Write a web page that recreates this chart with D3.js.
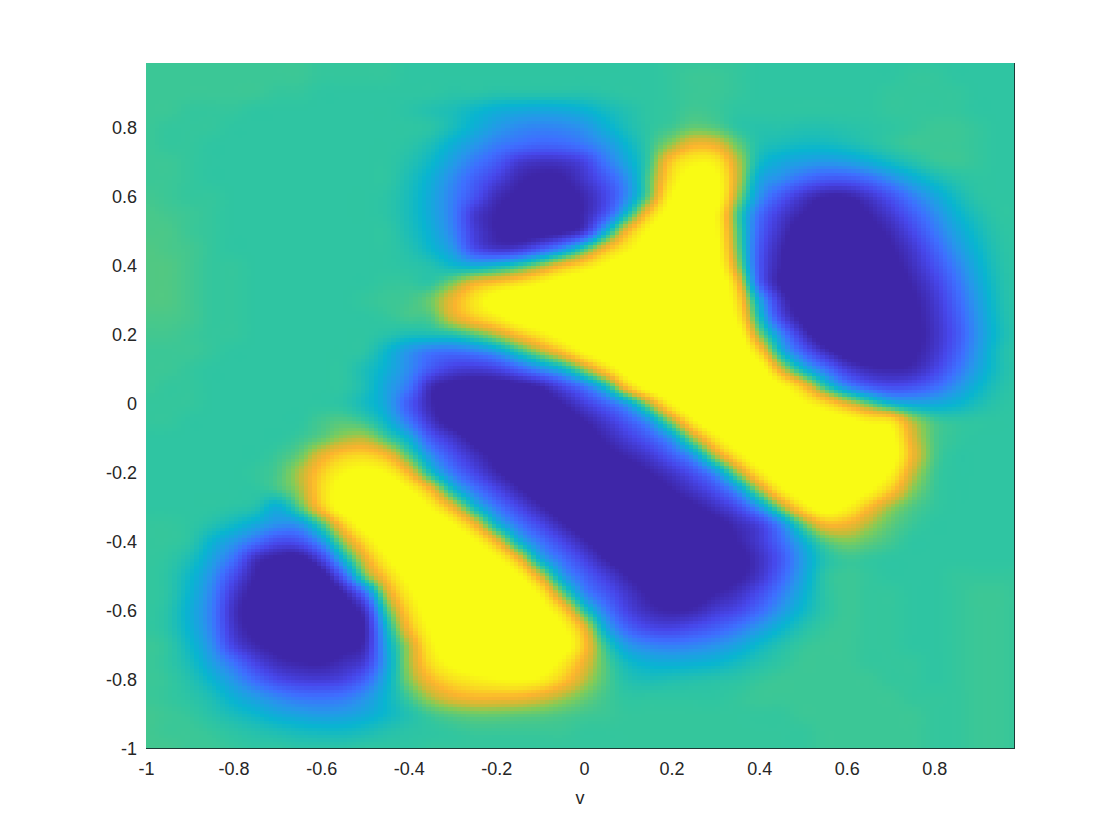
<!DOCTYPE html>
<html><head><meta charset="utf-8">
<script src="https://d3js.org/d3.v7.min.js"></script>
<style>html,body{margin:0;background:#fff}svg{display:block}text{font-family:"Liberation Sans",Arial,sans-serif}</style>
</head><body><svg id="c" width="1120" height="840"></svg>
<script>
const xTicks=[-1,-0.8,-0.6,-0.4,-0.2,0,0.2,0.4,0.6,0.8];
const xTickLabels=["-1","-0.8","-0.6","-0.4","-0.2","0","0.2","0.4","0.6","0.8"];
const yTicks=[-1,-0.8,-0.6,-0.4,-0.2,0,0.2,0.4,0.6,0.8];
const yTickLabels=["-1","-0.8","-0.6","-0.4","-0.2","0","0.2","0.4","0.6","0.8"];
const xLabel="v";
const gridX=d3.range(41).map(i=>-1+i*0.05);
const gridY=d3.range(41).map(j=>1-j*0.05);
const parula=["#3e26a8","#4747eb","#3e6fff","#2796eb","#08b5d0","#31c69f","#80cc59","#cdbb35","#fcb32e","#f9e020","#f9fb14"];
const parulaStops=[-8,8,22,33.3,44.4,55.6,66.7,75,85,98,110];
const field=[
[57,57,57,57,57,57,57,57,56,56,56,56,55,55,55,55,55,55,55,55,55,55,55,55,56,56,56,56,55,55,55,55,55,55,55,55,55,55,55,55,55],
[57,57,57,57,57,57,57,57,56,56,56,56,55,55,55,55,55,55,55,55,55,55,55,55,56,57,57,56,55,55,55,55,55,55,55,56,56,55,55,55,55],
[57,57,57,57,57,57,56,56,55,55,55,55,55,55,54,54,53,53,53,53,53,54,55,55,56,57,57,56,55,55,55,55,55,55,56,56,56,56,55,55,55],
[57,57,56,56,56,55,55,55,55,55,55,55,54,52,50,46,42,40,39,40,43,48,52,55,56,58,57,55,55,55,55,55,55,55,56,56,56,56,55,55,55],
[57,56,56,56,55,55,55,55,55,55,55,55,55,54,49,42,35,30,28,29,33,42,50,55,58,63,61,55,53,53,52,52,53,54,55,56,57,57,56,55,55],
[57,56,56,55,55,55,55,55,55,55,55,55,54,50,42,34,26,21,18,19,24,33,45,56,70,84,82,64,52,49,47,47,49,52,55,57,57,57,56,55,55],
[57,57,56,55,55,55,55,55,55,55,55,55,52,46,36,25,15,2,-2,-1,6,24,40,58,92,106,104,74,48,40,36,34,36,41,47,52,56,57,56,55,55],
[57,57,56,55,55,55,55,55,55,55,55,55,50,42,30,17,5,-6,-10,-9,0,14,33,62,100,118,114,76,40,30,20,14,14,20,30,40,48,53,55,55,55],
[58,57,56,56,55,55,55,55,55,55,55,54,49,40,27,12,-4,-10,-14,-12,-6,8,32,66,110,125,118,70,33,14,0,-8,-8,0,12,26,38,48,54,55,55],
[59,58,57,56,55,55,55,55,55,55,55,54,49,40,26,2,-8,-14,-16,-14,-6,14,50,92,118,125,110,60,22,3,-8,-14,-14,-8,2,16,30,43,51,55,55],
[59,59,57,56,55,55,55,55,55,55,55,55,50,42,28,4,-8,-14,-14,-10,2,42,85,112,125,125,112,62,18,-2,-15,-18,-18,-12,-5,8,24,38,48,54,55],
[60,59,58,56,55,55,55,55,55,55,55,55,52,45,34,10,0,2,14,30,55,85,105,120,125,125,115,65,15,-6,-18,-20,-20,-16,-9,1,17,33,45,53,55],
[60,60,58,56,56,55,55,55,55,55,55,55,54,52,46,42,46,54,68,85,98,112,122,125,125,125,118,72,14,-8,-20,-22,-22,-18,-12,-3,11,27,42,52,55],
[60,60,58,56,56,55,55,55,55,55,55,56,56,55,66,82,90,98,108,118,125,125,125,125,125,125,125,88,18,-10,-20,-22,-22,-20,-15,-7,5,22,39,51,55],
[60,60,58,56,56,55,55,55,55,55,56,57,58,64,82,100,118,125,125,125,125,125,125,125,125,125,125,98,40,0,-15,-22,-22,-22,-17,-10,1,18,36,50,55],
[59,59,58,56,56,55,55,55,55,55,55,56,58,60,78,92,104,118,125,125,125,125,125,125,125,125,125,105,50,8,-12,-22,-22,-22,-18,-11,-1,15,34,49,55],
[58,58,57,56,56,55,55,55,55,55,55,53,50,50,52,60,72,88,102,116,125,125,125,125,125,125,125,118,68,30,0,-18,-22,-20,-18,-12,-2,13,33,48,55],
[57,57,57,56,55,55,55,55,55,55,54,45,33,24,22,26,35,52,70,88,110,122,125,125,125,125,125,125,95,46,18,-2,-14,-16,-15,-10,0,16,35,50,55],
[57,57,56,55,55,55,55,55,55,55,50,42,30,14,4,2,6,17,30,44,68,95,118,125,125,125,125,125,118,78,46,24,4,-5,-7,-5,6,22,38,50,55],
[57,56,56,55,55,55,55,55,55,55,50,38,24,-4,-12,-14,-14,-12,-6,8,25,50,92,118,125,125,125,125,125,112,88,55,30,16,10,12,20,32,44,52,55],
[56,56,56,55,55,55,55,55,55,54,48,38,15,-6,-16,-18,-18,-16,-14,-8,4,18,38,72,108,125,125,125,125,125,112,98,80,62,46,40,40,44,50,54,55],
[56,56,55,55,55,55,55,55,58,60,56,44,24,0,-14,-18,-20,-20,-18,-14,-8,2,16,35,70,105,125,125,125,125,125,122,115,105,100,72,58,55,55,55,55],
[55,55,55,55,55,55,55,57,62,70,72,58,42,15,0,-12,-18,-20,-20,-18,-14,-6,4,16,35,70,102,122,125,125,125,125,125,125,115,80,60,56,55,55,55],
[55,55,55,55,55,55,57,63,80,92,95,85,60,32,12,-2,-12,-18,-20,-20,-16,-12,-6,2,16,35,72,102,122,125,125,125,125,125,118,84,60,55,55,55,55],
[55,55,55,55,55,56,59,72,92,108,114,108,85,50,25,8,-6,-14,-18,-20,-20,-18,-14,-8,0,12,32,68,102,122,125,125,125,122,108,76,58,55,55,55,55],
[55,55,55,55,55,55,58,70,96,118,125,125,110,85,48,25,8,-6,-15,-18,-20,-20,-18,-14,-8,0,12,34,70,104,122,125,122,112,92,68,57,55,55,55,55],
[55,55,55,55,54,52,42,60,90,118,125,125,125,108,82,48,25,8,-6,-16,-20,-20,-20,-18,-14,-10,-2,10,34,68,100,118,108,88,70,60,56,55,55,55,55],
[56,56,55,52,47,40,32,34,58,92,118,125,125,125,110,84,46,24,8,-6,-16,-20,-20,-20,-18,-14,-12,-4,6,30,62,85,84,72,62,57,55,55,55,55,55],
[56,56,54,44,34,22,10,12,32,68,98,120,125,125,125,112,84,46,24,8,-6,-16,-20,-20,-20,-18,-14,-8,2,20,42,60,66,62,58,55,55,55,55,55,55],
[56,55,50,38,22,-2,-10,-12,6,44,80,108,125,125,125,125,112,84,42,22,6,-8,-16,-20,-20,-20,-16,-12,-2,14,36,52,57,56,55,55,55,55,55,55,55],
[56,54,46,32,10,-8,-14,-18,-14,16,62,92,115,125,125,125,125,112,78,38,18,4,-8,-16,-20,-20,-14,-10,0,18,38,54,57,56,55,55,55,56,56,56,56],
[56,54,44,28,2,-12,-18,-20,-20,-8,22,75,105,122,125,125,125,125,105,65,30,14,0,-10,-16,-14,-8,-2,10,26,42,54,57,56,56,55,55,56,57,57,56],
[56,53,42,26,-2,-14,-20,-22,-22,-14,0,58,95,118,125,125,125,125,118,95,55,26,6,-4,-8,-6,2,8,20,34,46,54,57,56,56,55,55,56,57,57,56],
[56,53,43,27,0,-12,-18,-22,-22,-16,-6,46,86,112,125,125,125,125,125,112,82,40,18,8,6,10,16,24,34,44,52,56,57,56,56,55,55,56,57,57,56],
[57,55,46,31,6,-6,-12,-18,-18,-12,-4,40,72,105,122,125,125,125,125,120,90,55,35,28,26,28,32,38,46,52,56,57,57,56,56,55,55,56,57,57,56],
[57,55,49,37,22,6,-4,-8,-9,-4,4,38,70,98,114,122,125,125,122,105,82,60,47,42,41,42,44,48,52,55,57,57,57,56,56,56,55,56,57,57,56],
[57,56,52,44,33,20,9,4,3,6,18,42,66,86,98,104,108,110,106,92,74,60,52,50,51,52,53,54,56,57,57,57,57,57,56,56,55,56,57,57,56],
[57,56,54,50,42,35,28,23,22,24,32,45,58,72,82,86,86,85,80,72,64,58,55,55,55,55,55,56,57,57,57,57,57,57,57,56,56,56,57,57,56],
[58,57,56,53,49,45,40,37,35,36,40,46,52,58,62,64,64,63,62,60,58,57,56,56,56,56,56,56,56,56,57,57,57,57,57,57,56,56,57,57,56],
[58,57,57,56,54,52,50,48,47,47,49,52,54,55,56,57,57,57,57,57,56,56,56,56,56,56,56,56,56,56,56,57,57,57,57,57,56,56,57,57,56],
[58,58,57,57,56,55,55,54,54,54,55,55,55,56,56,56,56,56,56,56,56,56,56,56,56,56,56,56,56,56,56,57,57,57,57,57,56,56,57,57,56]
];
const x=d3.scaleLinear().domain([-1,0.983]).range([146,1014.5]);
const y=d3.scaleLinear().domain([-1,0.988]).range([748.5,63]);
const colour=d3.scaleLinear().domain(parulaStops).range(parula).interpolate(d3.interpolateRgb).clamp(true);
function cr(a,b,c,d,t){return 0.5*(2*b+(c-a)*t+(2*a-5*b+4*c-d)*t*t+(3*b-a-3*c+d)*t*t*t);}
const nx=gridX.length,ny=gridY.length,cl=(v,n)=>Math.max(0,Math.min(n-1,v));
function shade(vx,vy){
  const u=(vx-gridX[0])/(gridX[1]-gridX[0]),w=(vy-gridY[0])/(gridY[1]-gridY[0]);
  const i=Math.floor(u),j=Math.floor(w),tu=u-i,tw=w-j,r=[];
  for(let m=-1;m<3;m++){const row=field[cl(j+m,ny)];
    r.push(cr(row[cl(i-1,nx)],row[cl(i,nx)],row[cl(i+1,nx)],row[cl(i+2,nx)],tu));}
  return cr(r[0],r[1],r[2],r[3],tw);
}
const svg=d3.select("#c");
const cv=document.createElement("canvas");cv.width=1120;cv.height=840;
const ctx=cv.getContext("2d");
const cellsX=d3.range(-1,0.983,0.01),cellsY=d3.range(-1,0.988,0.01);
for(const a of cellsX)for(const b of cellsY){
  const x0=Math.round(x(a)),x1=Math.round(x(Math.min(a+0.01,0.983)));
  const y0=Math.round(y(Math.min(b+0.01,0.988))),y1=Math.round(y(b));
  ctx.fillStyle=colour(shade(a+0.005,b+0.005));
  ctx.fillRect(x0,y0,x1-x0,y1-y0);
}
svg.append("image").attr("x",0).attr("y",0).attr("width",1120).attr("height",840).attr("href",cv.toDataURL());
const gx=svg.append("g").attr("transform","translate(0,748.5)")
 .call(d3.axisBottom(x).tickValues(xTicks).tickSize(0).tickPadding(14).tickFormat((d,i)=>xTickLabels[i]));
const gy=svg.append("g").attr("transform","translate(146,0)")
 .call(d3.axisLeft(y).tickValues(yTicks).tickSize(0).tickPadding(9).tickFormat((d,i)=>yTickLabels[i]));
[gx,gy].forEach(g=>{g.select(".domain").remove();g.selectAll("text").attr("font-size",18).attr("fill","#262626").attr("font-family",'"Liberation Sans",Arial,sans-serif');});
svg.append("line").attr("x1",146).attr("x2",1015).attr("y1",748.5).attr("y2",748.5).attr("stroke","#1c3a36").attr("stroke-width",1);
svg.append("line").attr("x1",1014.5).attr("x2",1014.5).attr("y1",63).attr("y2",749).attr("stroke","#1c3a36").attr("stroke-width",1);
svg.append("text").attr("x",580).attr("y",804).attr("text-anchor","middle").attr("font-size",18).attr("fill","#262626").text(xLabel);
</script></body></html>
